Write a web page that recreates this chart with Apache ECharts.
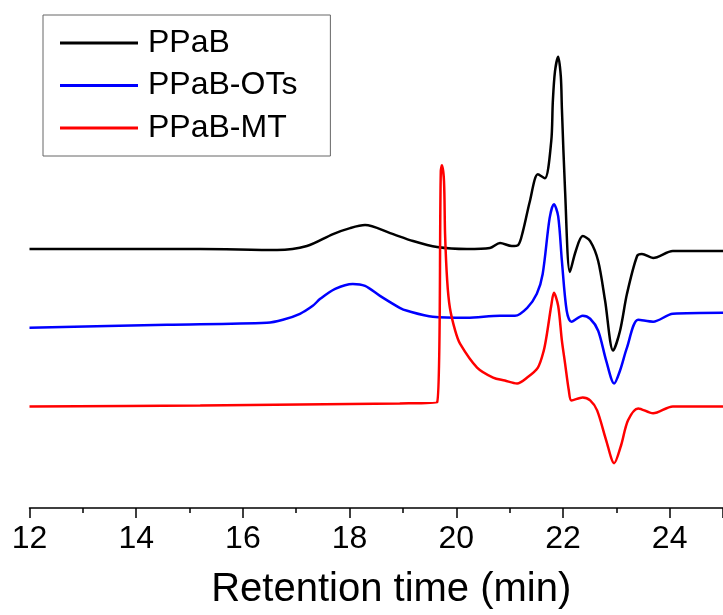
<!DOCTYPE html>
<html>
<head>
<meta charset="utf-8">
<script src="https://cdn.jsdelivr.net/npm/echarts@6/dist/echarts.min.js"></script>
<style>
  html, body { margin: 0; padding: 0; background: #fff; }
  #chart { width: 723px; height: 615px; }
</style>
</head>
<body>
<div id="chart"></div>
<script>
// retention time (min) and detector signal (arb. units, offset per trace)
const timePPaB = [12.0, 13.3, 15.2, 16.64, 17.2, 17.69, 18.01, 18.29, 18.76, 19.19, 19.64, 20.2, 20.63, 20.82, 21.04, 21.16, 21.25, 21.38, 21.53, 21.66, 21.78, 21.81, 21.85, 21.91, 21.96, 21.98, 22.04, 22.13, 22.24, 22.37, 22.51, 22.66, 22.79, 22.94, 23.07, 23.2, 23.39, 23.48, 23.69, 24.06, 25.0];
const sigPPaB  = [264, 264, 264, 263, 267, 279, 285, 288, 280, 272, 266, 264, 265, 270, 267, 268, 282, 312, 339, 335, 372, 412, 442, 457, 437, 405, 322, 241, 262, 277, 272, 252, 212, 162, 182, 219, 257, 259, 255, 262, 262];

const timeOTs = [12.0, 14.58, 16.45, 16.75, 17.07, 17.31, 17.45, 17.73, 18.06, 18.29, 18.57, 18.94, 19.08, 19.56, 20.2, 20.82, 21.1, 21.33, 21.51, 21.62, 21.75, 21.83, 21.91, 21.98, 22.07, 22.16, 22.37, 22.51, 22.66, 22.81, 22.96, 23.07, 23.2, 23.41, 23.69, 24.06, 25.0];
const sigOTs  = [185, 188, 190, 193, 199, 207, 214, 224, 229, 227, 217, 205, 202, 196, 195, 197, 197, 205, 219, 239, 295, 309, 297, 252, 202, 191, 197, 194, 182, 152, 129, 142, 165, 193, 191, 199, 200];

const timeMT = [12.0, 15.2, 18.94, 19.64, 19.71, 19.73, 19.77, 19.79, 19.83, 19.88, 19.98, 20.07, 20.39, 20.69, 20.91, 21.14, 21.33, 21.53, 21.64, 21.7, 21.78, 21.83, 21.91, 21.98, 22.04, 22.11, 22.16, 22.37, 22.51, 22.64, 22.81, 22.96, 23.09, 23.22, 23.41, 23.69, 24.06, 25.0];
const sigMT  = [106, 107, 109, 110, 342, 348, 332, 279, 232, 205, 182, 169, 145, 135, 132, 129, 135, 145, 162, 179, 207, 220, 207, 172, 149, 122, 112, 115, 112, 102, 72, 49, 67, 92, 104, 99, 106, 106];

const seriesNames = ['PPaB', 'PPaB-OTs', 'PPaB-MT'];
const seriesColors = ['#000000', '#0000ff', '#ff0000'];
const xTicks = [12, 14, 16, 18, 20, 22, 24];

function pairs(t, v) {
  return t.map((x, i) => [x, v[i]]);
}

const chart = echarts.init(document.getElementById('chart'));
const traces = [pairs(timePPaB, sigPPaB), pairs(timeOTs, sigOTs), pairs(timeMT, sigMT)];

const option = {
  animation: false,
  backgroundColor: '#fff',
  grid: { left: 29.5, right: 0, top: 0, bottom: 105 },
  legend: {
    orient: 'vertical',
    left: 43,
    top: 15,
    icon: 'rect',
    itemWidth: 78,
    itemHeight: 3,
    itemGap: 10.5,
    padding: [12, 33, 12, 17],
    borderColor: '#666',
    borderWidth: 1,
    textStyle: {
      fontFamily: 'Liberation Sans',
      fontSize: 32,
      lineHeight: 32,
      color: '#000',
      padding: [0, 0, 0, 5]
    },
    data: seriesNames
  },
  xAxis: {
    type: 'value',
    min: 12,
    max: 25,
    interval: 2,
    name: 'Retention time (min)',
    nameLocation: 'middle',
    nameGap: 62,
    nameTextStyle: {
      fontFamily: 'Liberation Sans',
      fontSize: 40,
      color: '#000',
      padding: [0, 0, 0, 30]
    },
    axisLine: { onZero: false, lineStyle: { color: '#000', width: 1.5 } },
    axisTick: { length: 10, lineStyle: { color: '#000', width: 1.5 } },
    minorTick: { show: true, splitNumber: 2, length: 5, lineStyle: { color: '#000', width: 1.5 } },
    splitLine: { show: false },
    axisLabel: {
      margin: 15,
      showMaxLabel: false,
      fontFamily: 'Liberation Sans',
      fontSize: 32,
      color: '#000',
      formatter: function (v) {
        return xTicks.indexOf(v) >= 0 ? String(v) : '';
      }
    }
  },
  yAxis: {
    type: 'value',
    min: 4,
    max: 514,
    show: false
  },
  series: seriesNames.map((name, i) => ({
    name: name,
    type: 'line',
    data: traces[i],
    showSymbol: false,
    symbol: 'none',
    smooth: 0.3,
    color: seriesColors[i],
    lineStyle: { width: 2.5, color: seriesColors[i] }
  }))
};

chart.setOption(option);
</script>
</body>
</html>
